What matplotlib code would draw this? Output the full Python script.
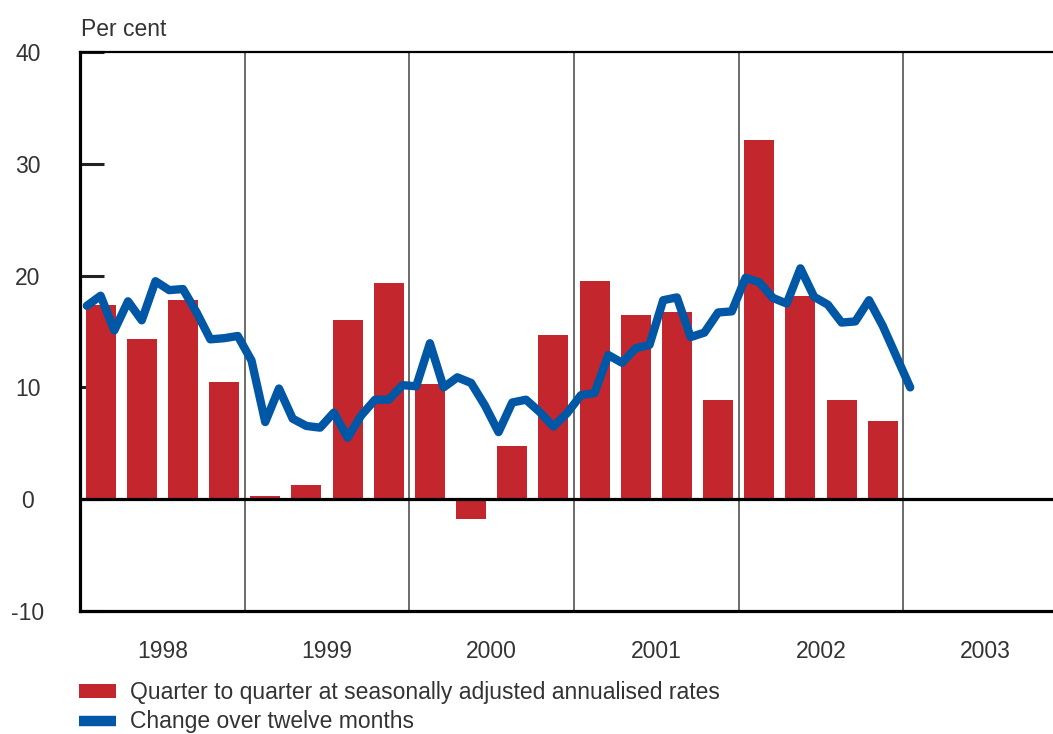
import matplotlib
matplotlib.use("Agg")
import matplotlib.pyplot as plt
from matplotlib.patches import Patch
from matplotlib.lines import Line2D
import numpy as np

plt.rcParams['font.family'] = ['Liberation Sans', 'DejaVu Sans']

years = ['1998', '1999', '2000', '2001', '2002', '2003']

# Quarterly, 1998Q1 - 2002Q4
quarterly = [17.4, 14.3, 17.8, 10.5,
             0.3, 1.3, 16.0, 19.3,
             10.3, -1.8, 4.8, 14.7,
             19.5, 16.5, 16.7, 8.9,
             32.1, 18.2, 8.9, 7.0]

# Monthly, Jan 1998 - Jan 2003
monthly = [17.3, 18.2, 15.1, 17.7, 16.0, 19.5, 18.7, 18.8, 16.7, 14.3, 14.4, 14.6,
           12.4, 6.9, 9.9, 7.2, 6.55, 6.4, 7.75, 5.5, 7.5, 8.9, 8.9, 10.2,
           10.1, 13.95, 10.0, 10.9, 10.4, 8.4, 6.0, 8.65, 8.9, 7.8, 6.5, 7.7,
           9.3, 9.5, 12.9, 12.2, 13.5, 13.8, 17.8, 18.05, 14.5, 14.9, 16.7, 16.8,
           19.8, 19.4, 18.0, 17.5, 20.65, 18.1, 17.4, 15.8, 15.9, 17.8, 15.5, 12.75,
           10.0]

bar_label = 'Quarter to quarter at seasonally adjusted annualised rates'
line_label = 'Change over twelve months'

RED = '#C4262E'
BLUE = '#0057A5'
TXT = '#333333'

fig = plt.figure(figsize=(10.53, 7.34), dpi=100)
ax = fig.add_axes([80/1053, 1-611/734, (1068-80)/1053, (611-52)/734])

xq = np.arange(len(quarterly)) / 4 + 1/8
xm = (np.arange(len(monthly)) + 0.5) / 12

ax.bar(xq, quarterly, width=0.182, color=RED, zorder=2)
ax.axhline(0, color='black', lw=2.3, zorder=3)
ax.plot(xm, monthly, color=BLUE, lw=6.0, zorder=4,
        solid_joinstyle='round', solid_capstyle='round')

ax.set_xlim(0, 6)
ax.set_ylim(-10, 40)

# year boundaries
ax.set_xticks(np.arange(0, 7))
ax.set_xticklabels([])
ax.tick_params(axis='x', which='major', length=0)
ax.grid(axis='x', which='major', color='#444444', lw=1.1, zorder=1)
ax.set_xticks(np.arange(6) + 0.5, minor=True)
ax.set_xticklabels(years, minor=True)
ax.tick_params(axis='x', which='minor', length=0, pad=21, labelsize=16.5,
               labelcolor=TXT)

ax.set_yticks([-10, 0, 10, 20, 30, 40])
ax.set_yticklabels(['-10', '0', '10', '20', '30', '40'])
ax.tick_params(axis='y', direction='in', length=17.5, width=2.2, color='#222222',
               pad=37.5, labelsize=16.5, labelcolor=TXT)
for lab in ax.get_yticklabels():
    lab.set_horizontalalignment('center')

for s in ['left', 'bottom']:
    ax.spines[s].set_linewidth(2.3)
ax.spines['top'].set_linewidth(1.6)
ax.spines['right'].set_visible(False)

fig.text(81/1053, 1-36/734, 'Per cent', fontsize=16.5, color=TXT, ha='left', va='baseline')

handles = [Patch(facecolor=RED, edgecolor='none'),
           Line2D([0], [0], color=BLUE, lw=7.5, solid_capstyle='butt')]
fig.legend(handles, [bar_label, line_label], loc='upper left',
           bbox_to_anchor=(79/1053, 1-681/734), frameon=False, fontsize=16.5,
           handlelength=1.62, handleheight=0.62, handletextpad=0.6,
           labelspacing=0.28, borderpad=0, borderaxespad=0, labelcolor=TXT)

fig.savefig('out.png', dpi=100)
